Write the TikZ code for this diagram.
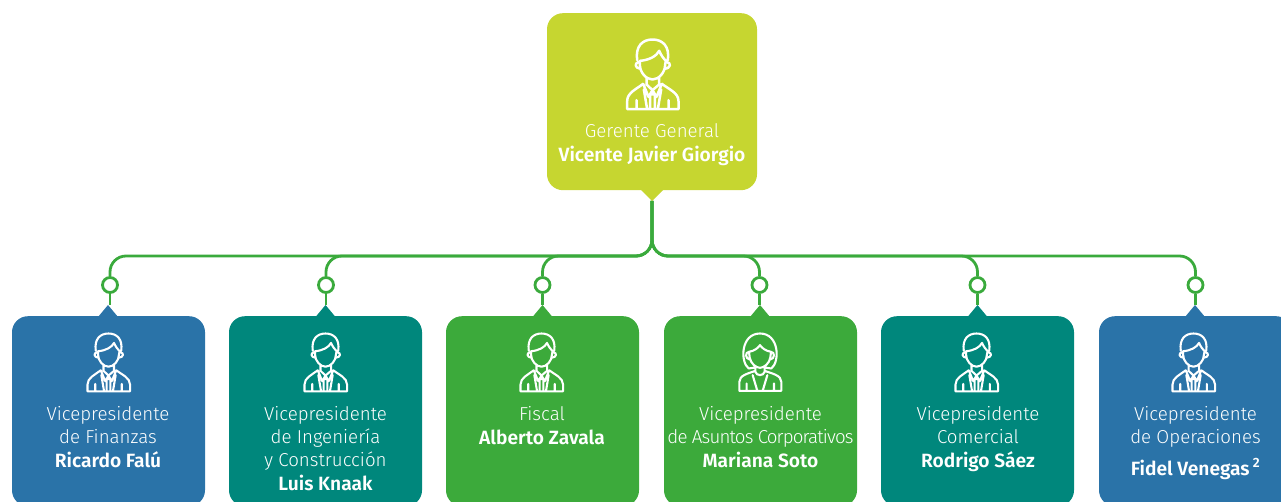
\documentclass[tikz,border=0pt]{standalone}
\usepackage{fontspec}
\setmainfont{Fira Sans}[UprightFont=* Light,BoldFont=* Medium]
\newfontface\tightlight{Fira Sans Light}[LetterSpace=-4.5]
\newfontface\tightbold{Fira Sans SemiBold}
\definecolor{lime}{HTML}{C6D630}
\definecolor{bluebox}{HTML}{2A73A8}
\definecolor{teal2}{HTML}{00877C}
\definecolor{greenbox}{HTML}{3CAA3B}
\definecolor{linegreen}{HTML}{3AAA3C}
\newcommand{\nm}[1]{\raisebox{-0.7pt}{\fontsize{19.2}{23}\tightbold #1}}
\tikzset{
 cardbox/.style={fill=#1,draw=none,rounded corners=16pt,inner sep=0pt,minimum width=193pt,minimum height=190pt,anchor=north},
 conn/.style={draw=linegreen,line width=2.8pt,rounded corners=16pt},
 stem/.style={draw=linegreen,line width=2.8pt},
 dot/.style={circle,draw=linegreen,line width=2.8pt,fill=white,minimum size=15pt,inner sep=0pt},
 lbl/.style={text=white,align=center,font=\fontsize{18.7}{23}\selectfont,anchor=north,inner sep=0pt},
 iconline/.style={draw=white,line width=#1,line join=round,line cap=round},
 pics/man/.style={code={
  \begin{scope}[x=0.3333pt*#1,y=-0.3333pt*#1]
  \draw[iconline=2.5pt*#1]
   (-46,62) .. controls (-52,20) and (-30,0) .. (0,0) .. controls (30,0) and (52,20) .. (46,62)
   (-38,64) .. controls (-10,62) and (12,50) .. (20,34) .. controls (26,48) and (34,58) .. (40,64)
   (-38,64) -- (-38,75) .. controls (-38,100) and (-18,120) .. (0,120) .. controls (18,120) and (38,100) .. (38,75) -- (40,64)
   (-42,68) .. controls (-54,70) and (-54,86) .. (-36,88)
   (44,68) .. controls (56,70) and (56,86) .. (36,88)
   (-18,115) -- (-18,135) -- (0,152) -- (20,135) -- (20,115)
   (-28,133) -- (-12,172) -- (0,152) -- (12,172) -- (28,133)
   (-76,209) -- (-76,185) .. controls (-76,160) and (-50,150) .. (-28,133)
   (78,209) -- (78,185) .. controls (78,160) and (50,150) .. (28,133)
   (-76,209) -- (78,209)
   (-48,209) -- (-48,182) (48,209) -- (48,182)
   (-7,165) -- (7,165) (-7,165) -- (-7,209) (7,165) -- (7,209)
   (-26,150) -- (-16,209) (26,150) -- (16,209);
  \end{scope}}},
 pics/woman/.style={code={
  \begin{scope}[x=0.3333pt,y=-0.3333pt]
  \draw[iconline=2.1pt]
   (-34,105) .. controls (-60,85) and (-58,0) .. (0,0) .. controls (58,0) and (60,85) .. (34,105)
   (-34,105) -- (-14,102) (34,105) -- (14,102)
   (-33,55) .. controls (-15,52) and (-5,42) .. (0,35) .. controls (5,42) and (15,52) .. (33,55)
   (-33,55) -- (-31,72) .. controls (-28,90) and (-12,103) .. (0,103) .. controls (12,103) and (28,90) .. (31,72) -- (33,55)
   (-33,55) .. controls (-45,55) and (-45,76) .. (-31,78)
   (33,55) .. controls (45,55) and (45,76) .. (31,78)
   (-14,100) -- (-14,115) (14,100) -- (14,115)
   (-14,115) .. controls (-10,128) and (10,128) .. (14,115)
   (-62,172) -- (-62,145) .. controls (-62,125) and (-35,120) .. (-14,112)
   (64,172) -- (64,145) .. controls (64,125) and (35,120) .. (14,112)
   (-62,172) -- (64,172)
   (-40,172) -- (-40,150) (42,172) -- (42,150)
   (-22,125) -- (-8,172) (22,125) -- (8,172);
  \end{scope}}}
}
\begin{document}
\begin{tikzpicture}[x=1pt,y=-1pt]
\useasboundingbox (0,0) rectangle (1281,502);
\clip (0,0) rectangle (1281,502);
\coordinate (toptip) at (652,201);
\coordinate (hub) at (652,256);
\coordinate (p1) at (108,305);
\coordinate (p2) at (325.5,305);
\coordinate (p3) at (542.5,305);
\coordinate (p4) at (760,305);
\coordinate (p5) at (977.5,305);
\coordinate (p6) at (1195,305);
% dots first, so that the connectors can refer to them
\node[dot] (c1) at (110,285) {};
\node[dot] (c2) at (326,285) {};
\node[dot] (c3) at (542.5,285) {};
\node[dot] (c4) at (759.5,285) {};
\node[dot] (c5) at (977.5,285) {};
\node[dot] (c6) at (1195.5,285) {};
% connectors
\foreach \k in {1,...,6}{
 \draw[conn] (toptip) -- (hub) -- (hub -| c\k) -- (c\k.north);
 \draw[stem] (c\k.south) -- (c\k |- p\k);
}
% boxes
\node[cardbox=lime,minimum width=210pt,minimum height=177pt] (top) at (652,13) {};
\fill[lime] (640,189) -- (toptip) -- (664,189) -- cycle;
\node[cardbox=bluebox] (n1) at (108.5,316) {};
\node[cardbox=teal2] (n2) at (325.5,316) {};
\node[cardbox=greenbox] (n3) at (542.5,316) {};
\node[cardbox=greenbox] (n4) at (760.5,316) {};
\node[cardbox=teal2] (n5) at (977.5,316) {};
\node[cardbox=bluebox] (n6) at (1195.5,316) {};
\fill[bluebox] ([shift={(-10,12)}]p1) -- (p1) -- ([shift={(10,12)}]p1) -- cycle;
\fill[teal2] ([shift={(-10,12)}]p2) -- (p2) -- ([shift={(10,12)}]p2) -- cycle;
\fill[greenbox] ([shift={(-10,12)}]p3) -- (p3) -- ([shift={(10,12)}]p3) -- cycle;
\fill[greenbox] ([shift={(-10,12)}]p4) -- (p4) -- ([shift={(10,12)}]p4) -- cycle;
\fill[teal2] ([shift={(-10,12)}]p5) -- (p5) -- ([shift={(10,12)}]p5) -- cycle;
\fill[bluebox] ([shift={(-10,12)}]p6) -- (p6) -- ([shift={(10,12)}]p6) -- cycle;
% icons
\pic at (652.5,39.5) {man=1};
\pic at (108.5,333.5) {man=0.83};
\pic at (325.5,333.5) {man=0.83};
\pic at (541.5,333.5) {man=0.83};
\pic at (760,333.5) {woman};
\pic at (976.5,333.5) {man=0.83};
\pic at (1193.5,333.5) {man=0.83};
% labels
\node[lbl] (t0) at (652,123.5) {Gerente General\\\nm{Vicente Javier Giorgio}};
\node[lbl] (t1) at (108,406.5) {Vicepresidente\\de Finanzas\\\nm{Ricardo Falú}};
\node[lbl] (t2) at (325.5,406.5) {Vicepresidente\\de Ingeniería\\y Construcción\\\nm{Luis Knaak}};
\node[lbl] (t3) at (542,406.5) {Fiscal\\\nm{Alberto Zavala}};
\node[lbl] (t4) at (760.5,406.5) {Vicepresidente\\{\tightlight de Asuntos Corporativos}\\\nm{Mariana Soto}};
\node[lbl] (t5) at (978,406.5) {Vicepresidente\\Comercial\\\nm{Rodrigo Sáez}};
\node[lbl] (t6) at (1195.5,406.5) {Vicepresidente\\de Operaciones\\[8pt]\nm{Fidel Venegas\,\textsuperscript{2}}};
\end{tikzpicture}
\end{document}
